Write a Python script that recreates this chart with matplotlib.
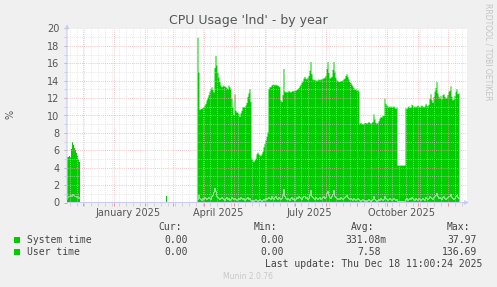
import numpy as np
import pandas as pd
import matplotlib
matplotlib.use("Agg")
import matplotlib.pyplot as plt
import matplotlib.dates as mdates
import matplotlib.transforms as mtransforms
from matplotlib.ticker import MultipleLocator, NullFormatter
from matplotlib.patches import Rectangle

W, H = 497, 287
GREEN = "#00cc00"

# 400 day window, one pixel per day
view_start = pd.Timestamp("2024-11-15")
view_end = pd.Timestamp("2025-12-20")

# stack top (system + user) and system time, one value per day
early_start = "2024-11-15"
early_total = [5.2, 5.2, 5.3, 5.2, 6.2, 7.0, 6.6, 6.3, 6.0, 5.7, 5.4, 5.0, 4.6]
early_system = [0.6, 0.7, 0.8, 0.9, 0.8, 1.0, 0.9, 0.8, 0.7, 0.6, 0.7, 0.5, 0.6]

blip_start = "2025-02-22"
blip_total = [0.7]
blip_system = [0.1]

main_start = "2025-03-25"
main_total = [
    19.0, 15.0, 10.7, 10.8, 10.8, 10.9, 11.0, 11.2, 11.4, 11.8,
    12.1, 12.4, 12.8, 13.1, 13.3, 13.0, 12.7, 15.5, 16.9, 15.8,
    15.0, 14.4, 13.9, 13.5, 13.3, 13.4, 13.5, 13.4, 13.3, 13.2,
    13.1, 13.5, 13.3, 13.1, 12.0, 11.0, 10.1, 12.5, 10.6, 10.4,
    10.4, 10.2, 9.9, 10.3, 10.6, 11.0, 11.0, 11.0, 11.2, 11.5,
    12.2, 12.6, 13.1, 11.6, 5.1, 4.9, 4.7, 4.9, 5.1, 5.6,
    5.8, 5.6, 5.5, 5.4, 5.6, 5.9, 6.4, 6.8, 7.2, 7.6,
    8.1, 13.1, 13.3, 13.3, 13.5, 13.6, 13.6, 13.5, 13.6, 13.5,
    13.5, 13.4, 13.3, 11.8, 11.6, 12.4, 15.4, 12.8, 12.7, 12.8,
    12.7, 12.9, 12.8, 12.7, 12.8, 12.9, 12.8, 12.9, 12.9, 13.0,
    13.1, 13.2, 13.4, 13.6, 13.8, 14.0, 14.3, 14.5, 14.3, 14.2,
    14.4, 14.6, 15.2, 16.2, 14.8, 14.2, 14.1, 14.2, 14.1, 14.0,
    14.1, 14.2, 14.1, 14.2, 14.2, 14.3, 14.3, 14.4, 14.6, 15.4,
    16.2, 15.0, 14.3, 14.4, 14.5, 15.3, 16.2, 15.1, 14.4, 14.1,
    14.0, 13.9, 13.9, 14.0, 14.0, 14.1, 14.2, 14.3, 14.6, 14.8,
    14.5, 14.2, 13.9, 13.8, 13.6, 13.4, 13.2, 13.0, 13.1, 12.9,
    13.0, 12.8, 9.1, 9.2, 9.1, 9.0, 9.1, 9.2, 9.2, 9.1,
    9.2, 9.3, 9.2, 9.1, 9.2, 9.3, 10.2, 9.6, 9.2, 9.1,
    9.2, 9.4, 9.7, 9.9, 9.8, 10.0, 10.0, 12.0, 11.4, 11.2,
    11.1, 11.0, 11.1, 11.0, 11.1, 11.0, 11.1, 11.0, 10.8, 11.0,
    4.3, 4.3, 4.3, 4.3, 4.3, 4.3, 4.3, 4.3, 10.9, 10.8,
    11.0, 11.1, 10.9, 11.0, 11.3, 11.2, 11.0, 11.1, 11.0, 11.1,
    11.2, 11.1, 11.0, 11.1, 11.2, 11.1, 11.0, 11.1, 11.4, 11.2,
    11.1, 11.3, 12.0, 12.5, 11.8, 11.5, 12.2, 12.8, 13.2, 13.9,
    12.6, 12.2, 12.0, 12.3, 11.9, 12.4, 12.5, 12.2, 12.0, 12.1,
    12.4, 12.8, 12.9, 13.4, 12.2, 11.8, 11.9, 12.3, 12.8, 13.1,
    12.5, 12.6,
]
main_system = [
    0.4, 0.9, 0.5, 0.4, 0.3, 0.5, 0.4, 0.6, 0.5, 0.4,
    0.5, 0.6, 0.5, 0.4, 0.7, 0.9, 1.2, 1.7, 1.3, 0.8,
    0.6, 0.5, 0.4, 0.5, 0.6, 0.5, 0.4, 0.3, 0.5, 0.6,
    0.4, 0.5, 0.3, 0.4, 0.6, 0.5, 0.4, 0.5, 0.4, 0.3,
    0.4, 0.5, 0.4, 0.6, 0.5, 0.4, 0.5, 0.3, 0.4, 0.5,
    0.6, 0.4, 0.5, 0.3, 0.2, 0.3, 0.2, 0.3, 0.4, 0.3,
    0.2, 0.3, 0.4, 0.3, 0.2, 0.3, 0.4, 0.3, 0.5, 0.4,
    0.5, 0.6, 0.5, 0.4, 0.7, 0.5, 0.4, 0.6, 0.8, 0.5,
    0.4, 0.6, 0.5, 0.4, 0.5, 0.9, 1.5, 0.7, 0.5, 0.4,
    0.5, 0.4, 0.3, 0.5, 0.6, 0.4, 0.5, 0.3, 0.4, 0.6,
    0.5, 0.7, 0.6, 0.5, 0.4, 0.6, 0.8, 0.7, 0.5, 0.6,
    0.4, 0.5, 0.9, 1.4, 0.8, 0.6, 0.5, 0.4, 0.6, 0.5,
    0.4, 0.5, 0.6, 0.4, 0.5, 0.6, 0.7, 0.5, 0.6, 1.1,
    1.3, 0.9, 0.6, 0.5, 0.7, 1.0, 1.4, 0.8, 0.6, 0.5,
    0.4, 0.5, 0.4, 0.6, 0.5, 0.4, 0.5, 0.6, 0.7, 0.9,
    0.6, 0.5, 0.4, 0.5, 0.4, 0.3, 0.5, 0.4, 0.3, 0.4,
    0.5, 0.4, 0.3, 0.2, 0.3, 0.4, 0.3, 0.2, 0.3, 0.2,
    0.3, 0.4, 0.3, 0.2, 0.3, 0.4, 0.7, 0.4, 0.3, 0.2,
    0.3, 0.4, 0.3, 0.5, 0.4, 0.3, 0.4, 0.8, 0.5, 0.4,
    0.3, 0.4, 0.5, 0.4, 0.3, 0.4, 0.5, 0.4, 0.3, 0.4,
    0.2, 0.2, 0.2, 0.2, 0.2, 0.2, 0.2, 0.2, 0.4, 0.5,
    0.3, 0.4, 0.5, 0.4, 0.6, 0.5, 0.4, 0.3, 0.5, 0.4,
    0.3, 0.5, 0.4, 0.3, 0.4, 0.5, 0.4, 0.3, 0.6, 0.5,
    0.4, 0.5, 0.7, 0.6, 0.5, 0.4, 0.6, 0.8, 0.9, 1.1,
    0.7, 0.5, 0.6, 0.5, 0.4, 0.6, 0.7, 0.5, 0.4, 0.5,
    0.6, 0.7, 0.8, 1.0, 0.6, 0.5, 0.4, 0.5, 0.7, 0.9,
    0.6, 0.5,
]

month_labels = ["January 2025", "April 2025", "July 2025", "October 2025"]
month_label_days = ["2025-01-15", "2025-04-15", "2025-07-15", "2025-10-15"]

legend_names = ["System time", "User time"]
legend_cur = ["0.00", "0.00"]
legend_min = ["0.00", "0.00"]
legend_avg = ["331.08m", "7.58"]
legend_max = ["37.97", "136.69"]
last_update = "Last update: Thu Dec 18 11:00:24 2025"


def fx(x):
    return x / W


def fy(y):
    return 1 - y / H


fig = plt.figure(figsize=(W / 100, H / 100), dpi=100, facecolor="#f0f0f0")
ax = fig.add_axes([fx(67), fy(202.5), 400 / W, 174 / H])
ax.set_facecolor("white")


def draw_segment(start, total, system):
    days = pd.date_range(start, periods=len(total) + 1)
    tot = np.append(total, total[-1])
    sysv = np.append(system, system[-1])
    ax.fill_between(days, 0, sysv, step="post", color=GREEN, lw=0, zorder=1)
    ax.fill_between(days, sysv, tot, step="post", color=GREEN, lw=0, zorder=1)
    ax.step(days, sysv, where="post", color="#a8eaa8", lw=0.5, zorder=1)


draw_segment(early_start, early_total, early_system)
draw_segment(blip_start, blip_total, blip_system)
draw_segment(main_start, main_total, main_system)

ax.set_xlim(view_start, view_end)
ax.set_ylim(0, 20)
ax.yaxis.set_major_locator(MultipleLocator(2))
ax.yaxis.set_minor_locator(MultipleLocator(1))
ax.xaxis.set_major_locator(mdates.MonthLocator())
ax.xaxis.set_minor_locator(mdates.WeekdayLocator(byweekday=mdates.MO))
ax.xaxis.set_major_formatter(NullFormatter())
ax.xaxis.set_minor_formatter(NullFormatter())

# grid drawn over the areas, like rrdtool
ax.set_axisbelow(False)
ax.grid(which="minor", color="#d8d8d8", linestyle=(0, (1, 1.5)), lw=0.6, alpha=0.8)
ax.grid(which="major", color="#f0a8a8", linestyle=(0, (1, 1.5)), lw=0.6, alpha=0.9)

for s in ax.spines.values():
    s.set_visible(False)
ax.tick_params(axis="y", which="major", length=2, width=0.6, color="#aaaaaa",
               labelsize=7, labelcolor="#555555", pad=3.5)
ax.tick_params(axis="y", which="minor", length=2, width=0.6, color="#cccccc")
ax.tick_params(axis="x", which="major", length=2.5, width=0.6, color="#f08080")
ax.tick_params(axis="x", which="minor", length=2, width=0.6, color="#cccccc")

# axis lines with arrows
axis_col = "#c8ccf4"
ax.annotate("", xy=(0, 1.04), xytext=(0, 0), xycoords="axes fraction",
            arrowprops=dict(arrowstyle="-|>", color=axis_col, lw=0.8, mutation_scale=6))
ax.annotate("", xy=(1.012, 0), xytext=(-0.006, 0), xycoords="axes fraction",
            arrowprops=dict(arrowstyle="-|>", color=axis_col, lw=0.8, mutation_scale=6))

# month labels: x in dates, y in figure coords
lab_trans = mtransforms.blended_transform_factory(ax.transData, fig.transFigure)
for lab, d in zip(month_labels, month_label_days):
    ax.text(pd.Timestamp(d), fy(215.5), lab, transform=lab_trans, clip_on=False,
            ha="center", va="baseline", fontsize=7, color="#555555")

fig.text(fx(248.3), fy(24), "CPU Usage 'lnd' - by year", ha="center", va="baseline",
         fontsize=9, color="#555555")
fig.text(fx(10), fy(114), "%", rotation=90, ha="center", va="center",
         fontsize=7, color="#555555")
fig.text(fx(488), fy(52), "RRDTOOL / TOBI OETIKER", rotation=270, ha="center",
         va="center", fontsize=5.5, color="#c4c4c4")

mono = dict(family="DejaVu Sans Mono", fontsize=7, color="#444444", va="baseline")
fig.text(fx(181.7), fy(230.5), "Cur:", ha="right", **mono)
fig.text(fx(277.3), fy(230.5), "Min:", ha="right", **mono)
fig.text(fx(374), fy(230.5), "Avg:", ha="right", **mono)
fig.text(fx(470), fy(230.5), "Max:", ha="right", **mono)

row_base = [243.3, 255]
avg_right = [386.7, 380.7]
for i, name in enumerate(legend_names):
    yb = row_base[i]
    fig.add_artist(Rectangle((fx(14), fy(yb - 0.3)), 6 / W, 6 / H,
                             transform=fig.transFigure, color=GREEN, lw=0))
    fig.text(fx(26.7), fy(yb), name, ha="left", **mono)
    fig.text(fx(187.7), fy(yb), legend_cur[i], ha="right", **mono)
    fig.text(fx(284), fy(yb), legend_min[i], ha="right", **mono)
    fig.text(fx(avg_right[i]), fy(yb), legend_avg[i], ha="right", **mono)
    fig.text(fx(476.7), fy(yb), legend_max[i], ha="right", **mono)

fig.text(fx(482.3), fy(266.7), last_update, ha="right", **mono)
fig.text(fx(248), fy(279), "Munin 2.0.76", ha="center", va="baseline",
         fontsize=5.5, color="#c8c8c8")

fig.savefig("out.png", dpi=100, facecolor=fig.get_facecolor())
